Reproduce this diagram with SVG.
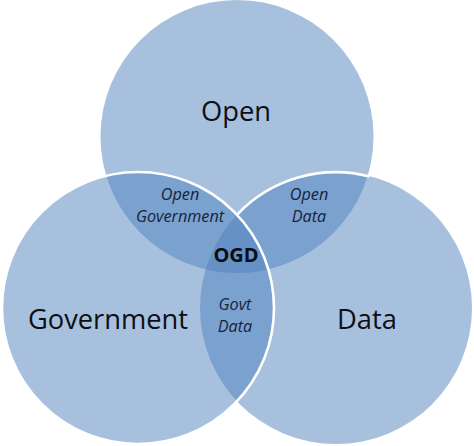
<svg xmlns="http://www.w3.org/2000/svg" width="474" height="446" viewBox="0 0 474 446">
  <style>
    .fill { fill: #4F81BD; fill-opacity: 0.5; }
    .edge { fill: none; stroke: #ffffff; stroke-width: 2.6; }
    .main { font-family: "Open Sans", "Noto Sans", "Liberation Sans", sans-serif; font-size: 27.3px; fill: #0d0f14; text-anchor: middle; }
    .sub { font-family: "Open Sans", "Noto Sans", "Liberation Sans", sans-serif; font-size: 16.2px; font-style: italic; fill: #15233d; text-anchor: middle; }
    .core { font-family: "Open Sans", "Noto Sans", "Liberation Sans", sans-serif; font-size: 20px; font-weight: bold; fill: #0a0c12; text-anchor: middle; }
  </style>
  <rect width="474" height="446" fill="#ffffff"/>
  <g id="node-open">
    <circle class="fill" cx="237" cy="136.5" r="136.5"/>
  </g>
  <g id="node-data">
    <circle class="fill" cx="336" cy="308" r="136"/>
    <path class="edge" d="M369.5,176.5 A136,136 0 0 0 237,214.8"/>
  </g>
  <g id="node-government">
    <circle class="fill" cx="138" cy="308" r="136"/>
    <circle class="edge" cx="138" cy="308" r="136"/>
  </g>
  <g id="connectors"></g>
  <g id="labels">
    <g id="label-open"><text class="main" x="236" y="120.5">Open</text></g>
    <g id="label-government"><text class="main" x="108" y="328.5">Government</text></g>
    <g id="label-data"><text class="main" x="367" y="329">Data</text></g>
    <g id="label-open-government">
      <text class="sub" x="180" y="200">Open</text>
      <text class="sub" x="180" y="221.5">Government</text>
    </g>
    <g id="label-open-data">
      <text class="sub" x="309" y="200">Open</text>
      <text class="sub" x="309" y="221.5">Data</text>
    </g>
    <g id="label-ogd"><text class="core" x="236" y="262">OGD</text></g>
    <g id="label-govt-data">
      <text class="sub" x="235" y="310">Govt</text>
      <text class="sub" x="235" y="331.5">Data</text>
    </g>
  </g>
</svg>
